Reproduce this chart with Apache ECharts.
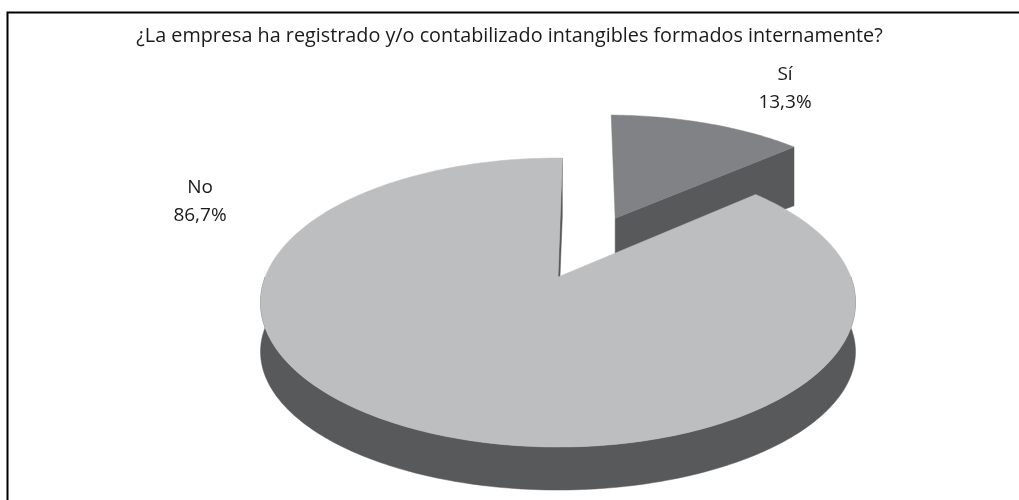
<!DOCTYPE html>
<html>
<head>
<meta charset="utf-8">
<script src="https://cdn.jsdelivr.net/npm/echarts@6/dist/echarts.min.js"></script>
<style>
  html, body { margin: 0; padding: 0; background: #ffffff; }
  #chart { width: 1019px; height: 500px; }
</style>
</head>
<body>
<div id="chart"></div>
<script>
// Survey answers and their shares (percent)
const categories = ['Sí', 'No'];
const shares = [13.3, 86.7];
const chartTitle = '¿La empresa ha registrado y/o contabilizado intangibles formados internamente?';

// Per-slice styling: top face colour and how far the slice is pulled out
const topColors = ['#818285', '#bdbec0'];
const sideColor = '#58595b';
const explodeBy = [0.5, 0];
// Label anchors (text centre, pixels)
const labelAnchors = [[785, 89], [200, 202]];

// Perspective view of a unit disc lying flat
const VIEW = {
  cx: 558, cy: 277,     // projected centre of the disc
  ax: 292.8, by: 140,   // horizontal / vertical scale
  k: 0.1765,            // perspective strength (far side shrinks)
  depth0: 50.5, depthSlope: 7.5, // side wall height in pixels
  startDeg: 1           // rotation of the first slice, clockwise from 12 o'clock
};

function proj(u, v) {
  const w = 1 + VIEW.k * v;
  return [VIEW.cx + VIEW.ax * u / w, VIEW.cy - VIEW.by * v / w];
}
function projDown(u, v) {
  const p = proj(u, v);
  return [p[0], p[1] + VIEW.depth0 + VIEW.depthSlope * v];
}

// Cumulative angles for each slice
const total = shares.reduce((a, b) => a + b, 0);
const slices = [];
{
  let acc = 0;
  shares.forEach(function (v) {
    const a0 = VIEW.startDeg + acc / total * 360;
    acc += v;
    const a1 = VIEW.startDeg + acc / total * 360;
    slices.push({ a0: a0, a1: a1 });
  });
}

const RAD = Math.PI / 180;

function arcPoints(ox, oy, d0, d1, fn) {
  const pts = [];
  const n = Math.max(2, Math.ceil(Math.abs(d1 - d0)));
  for (let j = 0; j <= n; j++) {
    const t = (d0 + (d1 - d0) * j / n) * RAD;
    pts.push(fn(ox + Math.sin(t), oy + Math.cos(t)));
  }
  return pts;
}

function fmt(v) {
  return v.toFixed(1).replace('.', ',') + '%';
}

function renderItem(params, api) {
  const i = params.dataIndex;
  const s = slices[i];
  const mid = (s.a0 + s.a1) / 2 * RAD;
  const ox = explodeBy[i] * Math.sin(mid);
  const oy = explodeBy[i] * Math.cos(mid);
  const base = i * 10;
  const children = [];

  // Curved outer wall: only the front half can be seen
  const f0 = Math.max(s.a0, 90), f1 = Math.min(s.a1, 270);
  if (f1 > f0) {
    const topArc = arcPoints(ox, oy, f0, f1, proj);
    const botArc = arcPoints(ox, oy, f0, f1, projDown).reverse();
    children.push({
      type: 'polygon', z2: base + 1,
      shape: { points: topArc.concat(botArc) },
      style: { fill: sideColor, stroke: sideColor, lineWidth: 0.5 }
    });
  }

  // Radial cut faces that face the viewer
  const edges = [
    { a: s.a0, nv: Math.sin(s.a0 * RAD) },   // outward normal v-component
    { a: s.a1, nv: -Math.sin(s.a1 * RAD) }
  ];
  edges.forEach(function (e) {
    if (e.nv >= 0) return;
    const t = e.a * RAD;
    const eu = ox + Math.sin(t), ev = oy + Math.cos(t);
    children.push({
      type: 'polygon', z2: base + 2,
      shape: { points: [proj(ox, oy), proj(eu, ev), projDown(eu, ev), projDown(ox, oy)] },
      style: { fill: sideColor, stroke: sideColor, lineWidth: 0.5 }
    });
  });

  // Top face
  const face = [proj(ox, oy)].concat(arcPoints(ox, oy, s.a0, s.a1, proj));
  children.push({
    type: 'polygon', z2: base + 5,
    shape: { points: face },
    style: { fill: topColors[i], stroke: topColors[i], lineWidth: 0.5 }
  });

  // Category label with its share
  const la = labelAnchors[i];
  children.push({
    type: 'text', z2: 100,
    x: la[0], y: la[1],
    style: {
      text: categories[i] + '\n' + fmt(api.value(0)),
      fill: '#1a1a1a',
      font: '19px "Open Sans", sans-serif',
      lineHeight: 28,
      align: 'center',
      verticalAlign: 'middle'
    }
  });

  return { type: 'group', children: children };
}

const chart = echarts.init(document.getElementById('chart'), null, { renderer: 'canvas' });
chart.setOption({
  backgroundColor: '#ffffff',
  animation: false,
  title: {
    text: chartTitle,
    left: 'center',
    top: 21,
    textStyle: {
      fontFamily: '"Open Sans", sans-serif',
      fontSize: 19.8,
      fontWeight: 'normal',
      color: '#1a1a1a'
    }
  },
  graphic: [{
    type: 'polyline',
    shape: { points: [[7.5, 501], [7.5, 12.5], [1020, 12.5]] },
    style: { stroke: '#000000', lineWidth: 2, fill: null }
  }],
  series: [{
    type: 'custom',
    coordinateSystem: 'none',
    renderItem: renderItem,
    data: shares.map(function (v, i) { return { name: categories[i], value: [v] }; })
  }]
});
</script>
</body>
</html>
